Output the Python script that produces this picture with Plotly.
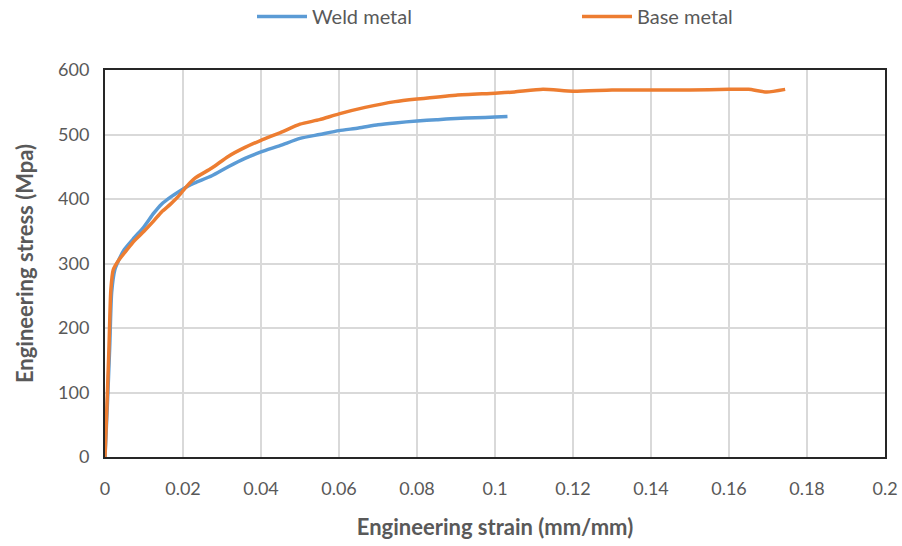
import plotly.graph_objects as go

weld_strain = [0, 0.0006, 0.0012, 0.0017, 0.0025, 0.0035, 0.005, 0.0075, 0.01, 0.0125, 0.0145, 0.0168, 0.0188, 0.021, 0.023, 0.0274, 0.0316, 0.0359, 0.04, 0.045, 0.05, 0.055, 0.06, 0.065, 0.07, 0.0744, 0.08, 0.085, 0.09, 0.095, 0.1, 0.1032]
weld_stress = [0, 80, 170, 255, 290, 305, 322, 340, 357, 378, 392, 403, 411, 419, 425, 436, 450, 463, 473, 483, 494, 500, 506, 510, 515, 518, 521, 523, 525, 526, 527, 528]

base_strain = [0, 0.0005, 0.001, 0.0015, 0.0021, 0.0035, 0.0056, 0.0075, 0.01, 0.0125, 0.0145, 0.0168, 0.0188, 0.021, 0.023, 0.0274, 0.0316, 0.0359, 0.04, 0.045, 0.05, 0.055, 0.06, 0.0667, 0.0744, 0.08, 0.09, 0.1, 0.105, 0.1123, 0.12, 0.13, 0.14, 0.15, 0.16, 0.165, 0.1697, 0.1744]
base_stress = [0, 80, 166, 259, 290, 305, 321, 335, 350, 366, 380, 392, 404, 420, 432, 448, 466, 480, 491, 503, 516, 523, 532, 542, 551, 555, 561, 564, 566, 570, 567, 569, 569, 569, 570, 570, 566, 570]

x_ticks = [0, 0.02, 0.04, 0.06, 0.08, 0.1, 0.12, 0.14, 0.16, 0.18, 0.2]
x_tick_labels = ["0", "0.02", "0.04", "0.06", "0.08", "0.1", "0.12", "0.14", "0.16", "0.18", "0.2"]
y_ticks = [0, 100, 200, 300, 400, 500, 600]

fig = go.Figure()
fig.add_trace(go.Scatter(x=weld_strain, y=weld_stress, mode="lines", name="Weld metal",
                         line=dict(color="#5B9BD5", width=3.5, shape="spline", smoothing=0.6)))
fig.add_trace(go.Scatter(x=base_strain, y=base_stress, mode="lines", name="Base metal",
                         line=dict(color="#ED7D31", width=3.5, shape="spline", smoothing=0.6)))

font_family = "Lato, Open Sans, sans-serif"
fig.update_layout(
    width=902, height=546,
    margin=dict(l=105, r=17, t=70, b=89),
    paper_bgcolor="white", plot_bgcolor="white",
    font=dict(family=font_family, color="#595959", size=18),
    legend=dict(orientation="h", x=0.403, xanchor="left", y=0.97, yanchor="middle",
                yref="container", font=dict(size=20, color="#595959"),
                itemwidth=50, tracegroupgap=0,
                entrywidth=260, entrywidthmode="pixels"),
    showlegend=True,
)
fig.update_xaxes(range=[0, 0.2], tickvals=x_ticks, ticktext=x_tick_labels,
                 showgrid=True, gridcolor="#D9D9D9", gridwidth=2,
                 showline=True, linecolor="#262626", linewidth=2, mirror=True,
                 ticks="", zeroline=False, ticklabelstandoff=14, automargin=False,
                 title=dict(text="<b>Engineering strain (mm/mm)</b>", font=dict(size=22, color="#595959"), standoff=22),
                 tickfont=dict(size=18, color="#595959"))
fig.update_yaxes(range=[0, 600], tickvals=y_ticks,
                 showgrid=True, gridcolor="#D9D9D9", gridwidth=2,
                 showline=True, linecolor="#262626", linewidth=2, mirror=True,
                 ticks="", zeroline=False, ticklabelstandoff=10, automargin=False,
                 title=dict(text="<b>Engineering stress (Mpa)</b>", font=dict(size=22, color="#595959"), standoff=18),
                 tickfont=dict(size=18, color="#595959"))

fig.write_html("out.html")
